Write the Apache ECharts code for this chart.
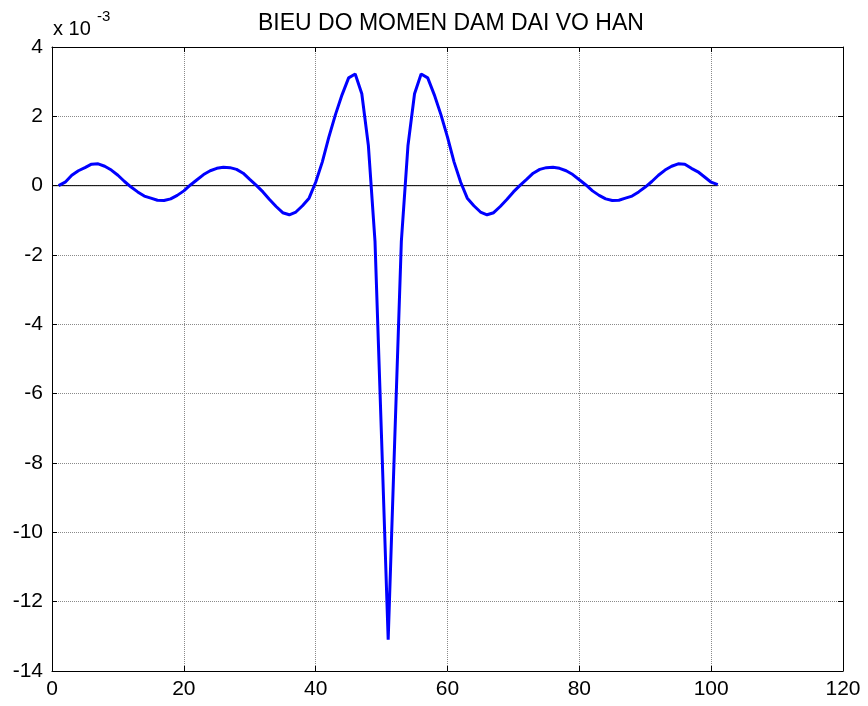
<!DOCTYPE html>
<html>
<head>
<meta charset="utf-8">
<title>BIEU DO MOMEN DAM DAI VO HAN</title>
<script src="https://cdn.jsdelivr.net/npm/echarts@6/dist/echarts.min.js"></script>
<style>
  html, body { margin: 0; padding: 0; background: #fff; }
  #chart { width: 868px; height: 706px; }
</style>
</head>
<body>
<div id="chart"></div>
<script>
// vi tri tiet dien (x) va momen (don vi x 10^-3)
var xPos = [1, 2, 3, 4, 5, 6, 7, 8, 9, 10,
  11, 12, 13, 14, 15, 16, 17, 18, 19, 20,
  21, 22, 23, 24, 25, 26, 27, 28, 29, 30,
  31, 32, 33, 34, 35, 36, 37, 38, 39, 40,
  41, 42, 43, 44, 45, 46, 47, 48, 49, 50,
  51, 52, 53, 54, 55, 56, 57, 58, 59, 60,
  61, 62, 63, 64, 65, 66, 67, 68, 69, 70,
  71, 72, 73, 74, 75, 76, 77, 78, 79, 80,
  81, 82, 83, 84, 85, 86, 87, 88, 89, 90,
  91, 92, 93, 94, 95, 96, 97, 98, 99, 100, 101];

var momen = [0.00, 0.10, 0.30, 0.43, 0.52, 0.62, 0.63, 0.56, 0.45, 0.30,
  0.12, -0.04, -0.18, -0.30, -0.36, -0.42, -0.43, -0.38, -0.28, -0.15,
  0.02, 0.17, 0.32, 0.43, 0.50, 0.53, 0.52, 0.47, 0.36, 0.18,
  0.01, -0.18, -0.40, -0.60, -0.78, -0.84, -0.76, -0.58, -0.36, 0.10,
  0.68, 1.40, 2.05, 2.62, 3.11, 3.22, 2.65, 1.15, -1.60, -7.30,
  -13.10,
  -7.30, -1.60, 1.15, 2.65, 3.22, 3.11, 2.62, 2.05, 1.40,
  0.68, 0.10, -0.36, -0.58, -0.76, -0.84, -0.78, -0.60, -0.40, -0.18,
  0.01, 0.18, 0.36, 0.47, 0.52, 0.53, 0.50, 0.43, 0.32, 0.17,
  0.02, -0.15, -0.28, -0.38, -0.43, -0.42, -0.36, -0.30, -0.18, -0.04,
  0.12, 0.30, 0.45, 0.56, 0.63, 0.62, 0.50, 0.40, 0.25, 0.10, 0.03];

// duong truc 0
var zeroX = [0, 101];
var zeroY = [0, 0];

var xTicks = [0, 20, 40, 60, 80, 100, 120];
var yTicks = [-14, -12, -10, -8, -6, -4, -2, 0, 2, 4];

var fontName = "'Liberation Sans', Arial, sans-serif";

var lineData = [];
for (var i = 0; i < xPos.length; i++) {
  lineData.push([xPos[i], momen[i]]);
}
var zeroData = [];
for (var j = 0; j < zeroX.length; j++) {
  zeroData.push([zeroX[j], zeroY[j]]);
}

function axisBase(show) {
  return {
    type: "value",
    axisLine: { show: true, onZero: false, lineStyle: { color: "#000", width: 1 } },
    axisTick: { show: true, inside: true, length: 5, lineStyle: { color: "#000" } },
    axisLabel: {
      show: show,
      color: "#000",
      fontFamily: fontName,
      fontSize: 21
    },
    splitLine: {
      show: show,
      lineStyle: { color: "#8a8a8a", type: [1, 1], width: 1 }
    }
  };
}

var xBottom = axisBase(true);
xBottom.position = "bottom";
xBottom.min = xTicks[0];
xBottom.max = xTicks[xTicks.length - 1];
xBottom.interval = 20;
xBottom.axisLabel.margin = 8;

var xTop = axisBase(false);
xTop.position = "top";
xTop.min = xTicks[0];
xTop.max = xTicks[xTicks.length - 1];
xTop.interval = 20;

var yLeft = axisBase(true);
yLeft.position = "left";
yLeft.min = yTicks[0];
yLeft.max = yTicks[yTicks.length - 1];
yLeft.interval = 2;
yLeft.axisLabel.margin = 9;

var yRight = axisBase(false);
yRight.position = "right";
yRight.min = yTicks[0];
yRight.max = yTicks[yTicks.length - 1];
yRight.interval = 2;

var myChart = echarts.init(document.getElementById("chart"));
var option = {
  backgroundColor: "#fff",
  animation: false,
  grid: { left: 52, right: 25, top: 47, bottom: 35, containLabel: false },
  xAxis: [xBottom, xTop],
  yAxis: [yLeft, yRight],
  graphic: [
    {
      type: "text",
      left: 258,
      top: 12,
      style: {
        text: "BIEU DO MOMEN DAM DAI VO HAN",
        fill: "#000",
        font: "23px " + fontName
      }
    },
    {
      type: "text",
      left: 53,
      top: 19,
      style: { text: "x 10", fill: "#000", font: "20px " + fontName }
    },
    {
      type: "text",
      left: 97,
      top: 9,
      style: { text: "-3", fill: "#000", font: "15px " + fontName }
    }
  ],
  series: [
    {
      name: "truc",
      type: "line",
      xAxisIndex: 0,
      yAxisIndex: 0,
      data: zeroData,
      showSymbol: false,
      lineStyle: { color: "#000", width: 1 },
      z: 2
    },
    {
      name: "momen",
      type: "line",
      xAxisIndex: 0,
      yAxisIndex: 0,
      data: lineData,
      showSymbol: false,
      lineStyle: { color: "#0000ff", width: 3 },
      z: 3
    }
  ]
};
myChart.setOption(option, true);
</script>
</body>
</html>
